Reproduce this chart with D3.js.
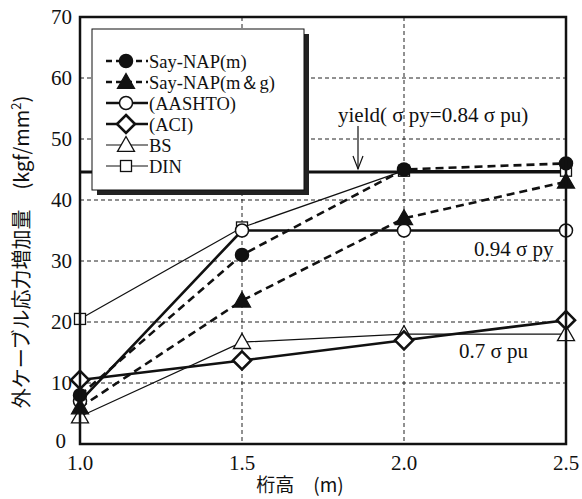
<!DOCTYPE html>
<html>
<head>
<meta charset="utf-8">
<script src="https://cdn.jsdelivr.net/npm/d3@7"></script>
<style>
  body { margin: 0; background: #fff; }
  text { font-family: "Liberation Serif", "DejaVu Serif", serif; fill: #111; }
  .jp { font-family: "Noto Sans CJK JP", sans-serif; }
</style>
</head>
<body>
<div id="chart"></div>
<script>
// girder height (m)
let heights = [1.0, 1.5, 2.0, 2.5]

let sayNapM = [8, 31, 45, 46]
let sayNapMG = [6, 23.5, 37, 43]
let aashto = [7, 35, 35, 35]
let aci = [10.5, 13.7, 17, 20.3]
let bs = [4.5, 16.7, 18, 18]
let din = [20.5, 35.5, 44.8, 44.8]

let yieldValue = 44.6
let xTicks = [1.0, 1.5, 2.0, 2.5]
let yTicks = [0, 10, 20, 30, 40, 50, 60, 70]

let series = [
    {name: "Say-NAP(m)", values: sayNapM, marker: "circle", fill: "#111", dash: "8,5", width: 2.6},
    {name: "Say-NAP(m\uFF06g)", values: sayNapMG, marker: "triangle", fill: "#111", dash: "8,5", width: 2.6},
    {name: "(AASHTO)", values: aashto, marker: "circle", fill: "#fff", dash: null, width: 2.6},
    {name: "(ACI)", values: aci, marker: "diamond", fill: "#fff", dash: null, width: 2.6},
    {name: "BS", values: bs, marker: "triangle", fill: "#fff", dash: null, width: 1.2},
    {name: "DIN", values: din, marker: "square", fill: "#fff", dash: null, width: 1.2}
]

let width = 582
let height = 499
let margins = {top: 17, right: 16, bottom: 55, left: 80}

let svg = d3.select("#chart").append("svg")
    .attr("width", width)
    .attr("height", height)

let xScale = d3.scaleLinear().domain([1.0, 2.5]).range([margins.left, width - margins.right])
let yScale = d3.scaleLinear().domain([0, 70]).range([height - margins.bottom, margins.top])

let x0 = xScale.range()[0], x1 = xScale.range()[1]
let y0 = yScale.range()[0], y1 = yScale.range()[1]

// dashed grid
svg.append("g").selectAll("line").data(yTicks.filter(d => d > 0 && d < 70)).join("line")
    .attr("x1", x0).attr("x2", x1)
    .attr("y1", d => yScale(d)).attr("y2", d => yScale(d))
    .attr("stroke", "#222").attr("stroke-width", 1).attr("stroke-dasharray", "4,3")
svg.append("g").selectAll("line").data([1.5, 2.0]).join("line")
    .attr("x1", d => xScale(d)).attr("x2", d => xScale(d))
    .attr("y1", y1).attr("y2", y0)
    .attr("stroke", "#222").attr("stroke-width", 1).attr("stroke-dasharray", "4,3")

// yield line
svg.append("line")
    .attr("x1", x0).attr("x2", x1)
    .attr("y1", yScale(yieldValue)).attr("y2", yScale(yieldValue))
    .attr("stroke", "#111").attr("stroke-width", 3)

let line = d3.line()
    .x((d, i) => xScale(heights[i]))
    .y(d => yScale(d))

function drawMarker(g, type, fill, cx, cy) {
    if (type === "circle") {
        g.append("circle").attr("cx", cx).attr("cy", cy).attr("r", 6.5)
            .attr("fill", fill).attr("stroke", "#111").attr("stroke-width", 1.5)
    } else if (type === "triangle") {
        let s = 8.5
        g.append("path")
            .attr("d", `M${cx},${cy - s}L${cx + s},${cy + s * 0.75}L${cx - s},${cy + s * 0.75}Z`)
            .attr("fill", fill).attr("stroke", "#111").attr("stroke-width", 1.3)
    } else if (type === "diamond") {
        let s = 9
        g.append("path")
            .attr("d", `M${cx},${cy - s}L${cx + s},${cy}L${cx},${cy + s}L${cx - s},${cy}Z`)
            .attr("fill", fill).attr("stroke", "#111").attr("stroke-width", 2.6)
    } else if (type === "square") {
        let s = 5.5
        g.append("rect").attr("x", cx - s).attr("y", cy - s).attr("width", 2 * s).attr("height", 2 * s)
            .attr("fill", fill).attr("stroke", "#111").attr("stroke-width", 1.3)
    }
}

// lines first, then markers
let drawOrder = [5, 4, 3, 2, 1, 0]
for (let i of drawOrder) {
    let s = series[i]
    svg.append("path").datum(s.values)
        .attr("d", line)
        .attr("fill", "none")
        .attr("stroke", "#111")
        .attr("stroke-width", s.width)
        .attr("stroke-dasharray", s.dash)
}
for (let i of drawOrder) {
    let s = series[i]
    let g = svg.append("g")
    s.values.forEach((v, j) => drawMarker(g, s.marker, s.fill, xScale(heights[j]), yScale(v)))
}

// frame
svg.append("rect")
    .attr("x", x0).attr("y", y1)
    .attr("width", x1 - x0).attr("height", y0 - y1)
    .attr("fill", "none").attr("stroke", "#111").attr("stroke-width", 2.5)

// axes labels
svg.append("g").selectAll("text").data(yTicks).join("text")
    .attr("x", d => d === 0 ? x0 - 14 : x0 - 8)
    .attr("y", d => yScale(d) + (d === 0 ? 4 : 7))
    .attr("text-anchor", "end")
    .style("font-size", "21px")
    .text(d => d)
svg.append("g").selectAll("text").data(xTicks).join("text")
    .attr("x", d => xScale(d))
    .attr("y", y0 + 26)
    .attr("text-anchor", "middle")
    .style("font-size", "21px")
    .text(d => d.toFixed(1))

svg.append("text")
    .attr("class", "jp")
    .attr("x", 300).attr("y", 492)
    .attr("text-anchor", "middle")
    .style("font-size", "19px")
    .text("桁高\u3000(m)")

let yl = svg.append("text")
    .attr("class", "jp")
    .attr("transform", `translate(29, ${252}) rotate(-90)`)
    .attr("text-anchor", "middle")
    .style("font-size", "20px")
yl.append("tspan").text("外ケーブル応力増加量\u3000(kgf/mm")
yl.append("tspan").attr("dy", -8).style("font-size", "13px").text("2")
yl.append("tspan").attr("dy", 8).text(")")

// annotations
svg.append("text")
    .attr("x", 338).attr("y", 122)
    .style("font-size", "21px")
    .text("yield( σ py=0.84 σ pu)")
let ax = 358
svg.append("line")
    .attr("x1", ax).attr("x2", ax)
    .attr("y1", 126).attr("y2", yScale(yieldValue) - 3)
    .attr("stroke", "#111").attr("stroke-width", 1.2)
svg.append("path")
    .attr("d", `M${ax - 5},${yScale(yieldValue) - 16}L${ax},${yScale(yieldValue) - 3}L${ax + 5},${yScale(yieldValue) - 16}`)
    .attr("fill", "none").attr("stroke", "#111").attr("stroke-width", 1.2)

svg.append("text")
    .attr("x", 474).attr("y", yScale(35) + 25)
    .style("font-size", "21px")
    .text("0.94 σ py")
svg.append("text")
    .attr("x", 459).attr("y", yScale(18) + 24)
    .style("font-size", "21px")
    .text("0.7 σ pu")

// legend box with shadow
let lx = 92, ly = 29, lw = 212, lh = 161
svg.append("rect").attr("x", lx + 5).attr("y", ly + 5).attr("width", lw).attr("height", lh)
    .attr("fill", "#222")
svg.append("rect").attr("x", lx).attr("y", ly).attr("width", lw).attr("height", lh)
    .attr("fill", "#fff").attr("stroke", "#111").attr("stroke-width", 1)

series.forEach((s, i) => {
    let yy = 61 + i * 21
    let g = svg.append("g")
    g.append("line")
        .attr("x1", 106).attr("x2", 148)
        .attr("y1", yy).attr("y2", yy)
        .attr("stroke", "#111")
        .attr("stroke-width", s.width)
        .attr("stroke-dasharray", s.dash ? "6,4" : null)
    drawMarker(g, s.marker, s.fill, 126, yy)
    g.append("text")
        .attr("x", 149).attr("y", yy + 7)
        .style("font-size", "18.5px")
        .text(s.name)
})
</script>
</body>
</html>
